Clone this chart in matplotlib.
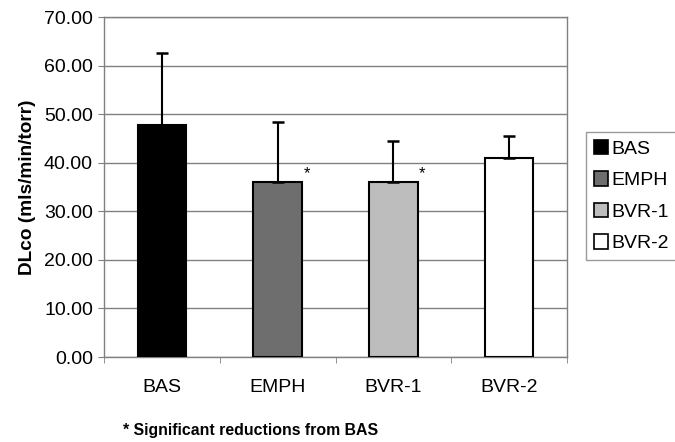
import matplotlib
matplotlib.use("Agg")
import matplotlib.pyplot as plt
from matplotlib.patches import Patch
import numpy as np

plt.rcParams['font.family'] = ['Liberation Sans', 'DejaVu Sans']

categories = ["BAS", "EMPH", "BVR-1", "BVR-2"]
means = [47.8, 36.1, 36.1, 40.9]
upper_err = [14.7, 12.2, 8.4, 4.6]
significant = [False, True, True, False]
colors = ["#000000", "#6e6e6e", "#bdbdbd", "#ffffff"]
yticks = [0, 10, 20, 30, 40, 50, 60, 70]

fig = plt.figure(figsize=(6.75, 4.42), dpi=100)
ax = fig.add_axes([104/675, 1-357/442, (567-104)/675, (357-17)/442])

x = np.arange(len(categories))
bw = 0.42
bars = ax.bar(x, means, width=bw, color=colors, edgecolor="black", linewidth=1.5, zorder=3)
ax.errorbar(x, means, yerr=[np.zeros(len(means)), upper_err], fmt="none",
            ecolor="black", elinewidth=1.5, capsize=4.5, capthick=1.8, zorder=4)

for xi, m, s in zip(x, means, significant):
    if s:
        ax.text(xi + bw/2 + 0.04, m + 0.2, "*", fontsize=12, ha="center", va="bottom", zorder=5)

ax.set_xlim(-0.5, len(categories) - 0.5)
ax.set_ylim(0, 70)
ax.set_yticks(yticks)
ax.set_yticklabels([f"{v:.2f}" for v in yticks], fontsize=14)
ax.set_xticks(x)
ax.set_xticklabels(categories, fontsize=14)
ax.tick_params(axis="x", which="major", length=0, pad=16)
ax.set_xticks(np.arange(-0.5, len(categories), 1.0), minor=True)
ax.tick_params(axis="x", which="minor", length=4, color="#808080", direction="out")
ax.tick_params(axis="y", length=4, color="#808080", direction="out", pad=4)

ax.yaxis.grid(True, color="#808080", linewidth=1.0, zorder=0)
ax.set_axisbelow(True)
for sp in ax.spines.values():
    sp.set_color("#808080")
    sp.set_linewidth(1.0)

ax.set_ylabel("DLco (mls/min/torr)", fontsize=13.7, fontweight="bold", labelpad=6)

handles = [Patch(facecolor=c, edgecolor="black", linewidth=1.2, label=l) for c, l in zip(colors, categories)]
leg = fig.legend(handles=handles, loc="upper left", bbox_to_anchor=(586/675, 1-132/442),
                 fontsize=14, frameon=True, fancybox=False, handlelength=0.75, handleheight=0.75,
                 handletextpad=0.15, borderpad=0.4, labelspacing=0.7, borderaxespad=0)
leg.get_frame().set_edgecolor("#808080")
leg.get_frame().set_linewidth(1.0)

fig.text(123/675, 1-430/442, "* Significant reductions from BAS", fontsize=11.4, fontweight="bold",
         ha="left", va="center")

fig.savefig("out.png", dpi=100)
